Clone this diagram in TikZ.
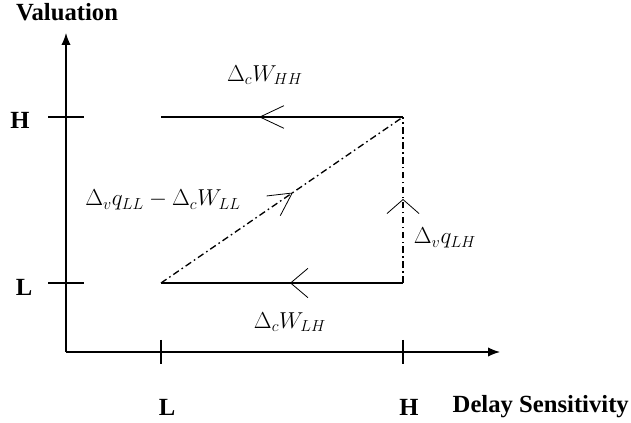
\documentclass[tikz,border=0pt]{standalone}
\usepackage{fontspec}
\setmainfont{Liberation Serif}
\usetikzlibrary{arrows.meta,decorations.markings}

\begin{document}
\begin{tikzpicture}[x=0.75pt,y=-0.75pt,
    axis/.style={line width=0.9pt,-{Latex[length=9pt,width=7pt]}},
    tick/.style={line width=0.8pt},
    solidpath/.style={line width=1pt},
    dashdot/.style={line width=1pt,dash pattern=on 5pt off 2.5pt on 1.2pt off 2.5pt},
    midarrow/.style 2 args={postaction={decorate,decoration={markings,
      mark=at position #1 with {\arrow[solid]{Straight Barb[length=#2,line width=0.6pt]}}}}},
    lbl/.style={font=\fontsize{18.5}{22}\selectfont\bfseries},
    mlbl/.style={font=\fontsize{17.5}{20}\selectfont}]
  \useasboundingbox (0,0) rectangle (631,423);
  % corners of the grid
  \coordinate (O) at (66,352);
  \coordinate (ytop) at (66,33);
  \coordinate (xend) at (500,352);
  \coordinate (LL) at (161,283);
  \coordinate (HL) at (403,283);
  \coordinate (LH) at (161,117);
  \coordinate (HH) at (403,117);
  % axes and ticks
  \draw[axis] (O) -- (ytop);
  \draw[axis] (O) -- (xend);
  \foreach \y in {117,283}
    \draw[tick] (48,\y) -- (84,\y);
  \foreach \x in {161,403}
    \draw[tick] (\x,340) -- (\x,364);
  % axis labels
  \node[lbl] (valuation) at (67,12) {Valuation};
  \node[lbl] (yH) at (20,120) {H};
  \node[lbl] (yL) at (24,287) {L};
  \node[lbl] (xL) at (167,407) {L};
  \node[lbl] (xH) at (409,407) {H};
  \node[lbl,anchor=west] (delay) at (448,407) {Delay Sensitivity};
  % transitions
  \draw[solidpath,midarrow={0.595}{18pt,width=17pt}] (HH) -- (LH);
  \draw[solidpath,midarrow={0.467}{13pt,width=22pt}] (HL) -- (LL);
  \draw[dashdot,midarrow={0.545}{17pt,width=18pt}] (LL) -- (HH);
  \draw[dashdot,midarrow={0.506}{10.5pt,width=24pt}] (HL) -- (HH);
  \node[mlbl] (wHH) at (265,75) {$\Delta_c W_{HH}$};
  \node[mlbl] (wLL) at (163,200) {$\Delta_v q_{LL} - \Delta_c W_{LL}$};
  \node[mlbl] (qLH) at (445,238) {$\Delta_v q_{LH}$};
  \node[mlbl] (wLH) at (290,322) {$\Delta_c W_{LH}$};
\end{tikzpicture}
\end{document}
